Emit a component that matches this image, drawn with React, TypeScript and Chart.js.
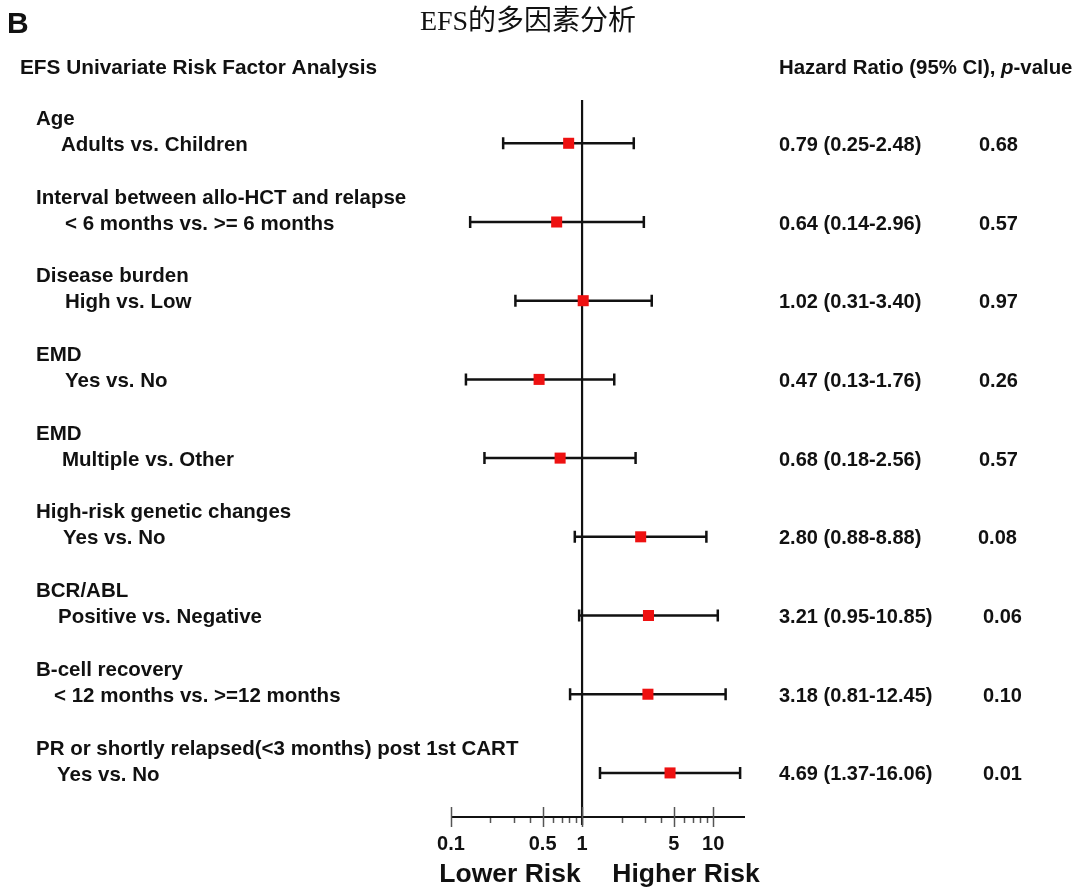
import React, { useEffect, useRef } from "react";
import { Chart, registerables } from "chart.js";

Chart.register(...registerables);

const groupLabels = [
  "Age",
  "Interval between allo-HCT and relapse",
  "Disease burden",
  "EMD",
  "EMD",
  "High-risk genetic changes",
  "BCR/ABL",
  "B-cell recovery",
  "PR or shortly relapsed(<3 months) post 1st CART",
];
const comparisons = [
  "Adults vs. Children",
  "< 6 months vs. >= 6 months",
  "High vs. Low",
  "Yes vs. No",
  "Multiple vs. Other",
  "Yes vs. No",
  "Positive vs. Negative",
  "< 12 months vs. >=12 months",
  "Yes vs. No",
];
const hazardRatios = [0.79, 0.64, 1.02, 0.47, 0.68, 2.8, 3.21, 3.18, 4.69];
const ciLower = [0.25, 0.14, 0.31, 0.13, 0.18, 0.88, 0.95, 0.81, 1.37];
const ciUpper = [2.48, 2.96, 3.4, 1.76, 2.56, 8.88, 10.85, 12.45, 16.06];
const pValues = ["0.68", "0.57", "0.97", "0.26", "0.57", "0.08", "0.06", "0.10", "0.01"];
const majorTicks = [0.1, 0.5, 1, 5, 10];
const minorTicks = [0.2, 0.3, 0.4, 0.6, 0.7, 0.8, 0.9, 2, 3, 4, 6, 7, 8, 9];
const majorTickLabels = ["0.1", "0.5", "1", "5", "10"];

const subIndent = [61, 65, 65, 65, 62, 63, 58, 54, 57];
const pIndent = [979, 979, 979, 979, 979, 978, 983, 983, 983];

const SANS = '"Liberation Sans", Arial, sans-serif';

const forestPlugin = {
  id: "forest",
  beforeDatasetsDraw(chart: any) {
    const { ctx, chartArea, scales } = chart;
    const xs = scales.x;
    const ys = scales.y;
    ctx.save();
    const x1 = xs.getPixelForValue(1);
    ctx.strokeStyle = "#111";
    ctx.lineWidth = 2.2;
    ctx.beginPath();
    ctx.moveTo(x1, chartArea.top);
    ctx.lineTo(x1, chartArea.bottom + 8);
    ctx.stroke();
    const ay = chartArea.bottom;
    ctx.lineWidth = 2;
    ctx.beginPath();
    ctx.moveTo(chartArea.left, ay);
    ctx.lineTo(chartArea.right, ay);
    ctx.stroke();
    ctx.strokeStyle = "#555";
    ctx.lineWidth = 1.5;
    majorTicks.forEach((v) => {
      const px = Math.round(xs.getPixelForValue(v)) + 0.5;
      ctx.beginPath();
      ctx.moveTo(px, ay - 10);
      ctx.lineTo(px, ay + 10);
      ctx.stroke();
    });
    minorTicks.forEach((v) => {
      const px = Math.round(xs.getPixelForValue(v)) + 0.5;
      ctx.beginPath();
      ctx.moveTo(px, ay + 1);
      ctx.lineTo(px, ay + 6);
      ctx.stroke();
    });
    ctx.strokeStyle = "#111";
    ctx.lineWidth = 2.5;
    hazardRatios.forEach((_, i) => {
      const y = ys.getPixelForValue(i);
      const l = xs.getPixelForValue(ciLower[i]);
      const h = xs.getPixelForValue(ciUpper[i]);
      ctx.beginPath();
      ctx.moveTo(l, y);
      ctx.lineTo(h, y);
      ctx.moveTo(l, y - 6);
      ctx.lineTo(l, y + 6);
      ctx.moveTo(h, y - 6);
      ctx.lineTo(h, y + 6);
      ctx.stroke();
    });
    ctx.restore();
  },
  afterDraw(chart: any) {
    const { ctx, chartArea, scales } = chart;
    const xs = scales.x;
    const ys = scales.y;
    ctx.save();
    ctx.fillStyle = "#111";
    ctx.textBaseline = "middle";
    ctx.font = `bold 30px ${SANS}`;
    ctx.textAlign = "left";
    ctx.fillText("B", 7, 25);
    ctx.font = `28px "Liberation Serif", "Noto Sans CJK SC", serif`;
    ctx.textAlign = "center";
    ctx.fillText("EFS的多因素分析", 528, 23);
    ctx.font = `bold 20.8px ${SANS}`;
    ctx.textAlign = "left";
    ctx.fillText("EFS Univariate Risk Factor Analysis", 20, 68);
    ctx.font = `bold 20.4px ${SANS}`;
    const h1 = "Hazard Ratio (95% CI), ";
    ctx.fillText(h1, 779, 68);
    let w = ctx.measureText(h1).width;
    ctx.font = `italic bold 20.4px ${SANS}`;
    ctx.fillText("p", 779 + w, 68);
    w += ctx.measureText("p").width;
    ctx.font = `bold 20.4px ${SANS}`;
    ctx.fillText("-value", 779 + w, 68);
    hazardRatios.forEach((hr, i) => {
      const y = ys.getPixelForValue(i);
      ctx.font = `bold 20.5px ${SANS}`;
      ctx.fillText(groupLabels[i], 36, y - 24);
      ctx.fillText(comparisons[i], subIndent[i], y + 2);
      ctx.font = `bold 20px ${SANS}`;
      ctx.fillText(
        `${hr.toFixed(2)} (${ciLower[i].toFixed(2)}-${ciUpper[i].toFixed(2)})`,
        779,
        y + 2
      );
      ctx.fillText(pValues[i], pIndent[i], y + 2);
    });
    ctx.textAlign = "center";
    ctx.font = `bold 20px ${SANS}`;
    majorTicks.forEach((v, i) => {
      ctx.fillText(majorTickLabels[i], xs.getPixelForValue(v), chartArea.bottom + 27);
    });
    ctx.font = `bold 26.5px ${SANS}`;
    ctx.fillText("Lower Risk", 510, chartArea.bottom + 58);
    ctx.fillText("Higher Risk", 686, chartArea.bottom + 58);
    ctx.restore();
  },
};

export default function App() {
  const ref = useRef<HTMLCanvasElement | null>(null);
  useEffect(() => {
    if (!ref.current) return;
    const chart = new Chart(ref.current, {
      type: "scatter",
      data: {
        datasets: [
          {
            data: hazardRatios.map((v, i) => ({ x: v, y: i })),
            backgroundColor: "#ee1111",
            borderColor: "#ee1111",
            borderWidth: 0,
            pointStyle: "rect",
            pointRadius: 7.8,
          },
        ],
      },
      options: {
        animation: false,
        responsive: false,
        devicePixelRatio: 1,
        layout: { padding: { left: 451, right: 335, top: 100, bottom: 72 } },
        scales: {
          x: { type: "logarithmic", min: 0.1, max: 17.5, display: false },
          y: { type: "linear", min: -0.55, max: 8.56, reverse: true, display: false },
        },
        plugins: { legend: { display: false }, tooltip: { enabled: false } },
      },
      plugins: [forestPlugin],
    });
    return () => chart.destroy();
  }, []);
  return (
    <div style={{ position: "absolute", left: 0, top: 0, width: 1080, height: 889, background: "#fff" }}>
      <canvas ref={ref} width={1080} height={889} />
    </div>
  );
}
